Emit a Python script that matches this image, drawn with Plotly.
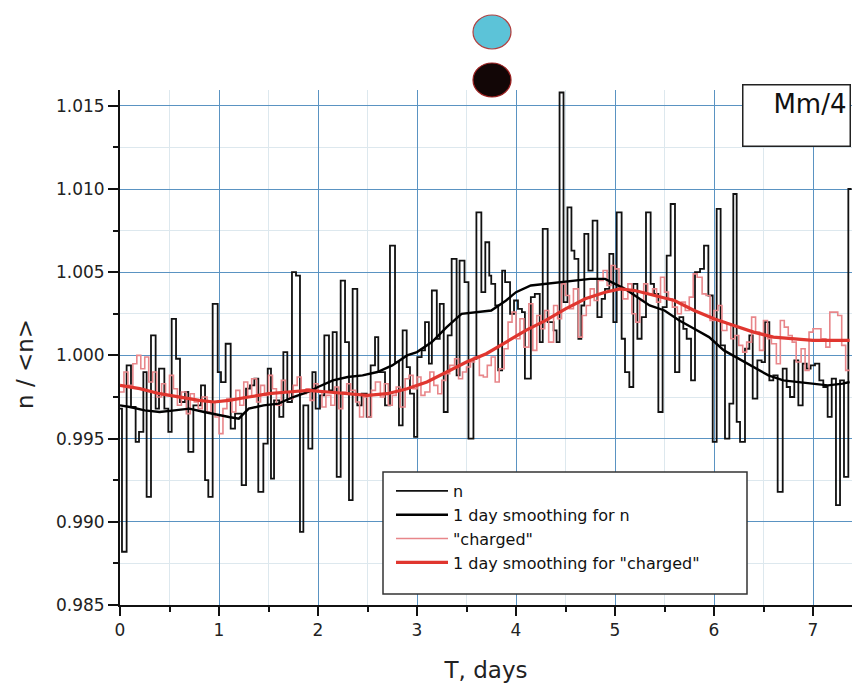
import plotly.graph_objects as go

# ---- data: raw "n" (step, bin start in days, value) ----
t_n = [0.000, 0.020, 0.067, 0.111, 0.158, 0.192, 0.236, 0.269, 0.313, 0.360,
       0.394, 0.448, 0.488, 0.522, 0.566, 0.606, 0.657, 0.690, 0.741, 0.818,
       0.859, 0.892, 0.936, 0.987, 1.020, 1.067, 1.118, 1.162, 1.229, 1.273,
       1.313, 1.357, 1.397, 1.448, 1.492, 1.525, 1.556, 1.609, 1.650, 1.690,
       1.737, 1.778, 1.818, 1.852, 1.902, 1.943, 1.976, 2.020, 2.064, 2.111,
       2.148, 2.189, 2.229, 2.273, 2.313, 2.350, 2.397, 2.441, 2.492, 2.532,
       2.576, 2.609, 2.677, 2.727, 2.778, 2.818, 2.855, 2.896, 2.929, 2.970,
       3.003, 3.047, 3.081, 3.120, 3.150, 3.200, 3.230, 3.270, 3.310, 3.350,
       3.400, 3.430, 3.480, 3.520, 3.570, 3.600, 3.650, 3.690, 3.730, 3.750,
       3.790, 3.820, 3.860, 3.890, 3.940, 3.980, 4.020, 4.060, 4.090, 4.150,
       4.190, 4.240, 4.270, 4.320, 4.380, 4.410, 4.440, 4.480, 4.520, 4.560,
       4.590, 4.630, 4.660, 4.690, 4.731, 4.774, 4.822, 4.865, 4.899, 4.943,
       4.983, 5.017, 5.067, 5.101, 5.145, 5.185, 5.226, 5.269, 5.313, 5.360,
       5.394, 5.438, 5.481, 5.522, 5.562, 5.606, 5.650, 5.690, 5.724, 5.768,
       5.808, 5.859, 5.899, 5.943, 5.987, 6.027, 6.067, 6.111, 6.155, 6.195,
       6.229, 6.263, 6.313, 6.357, 6.391, 6.438, 6.481, 6.515, 6.559, 6.599,
       6.643, 6.694, 6.734, 6.768, 6.811, 6.852, 6.896, 6.936, 6.976, 7.020,
       7.064, 7.104, 7.148, 7.189, 7.232, 7.273, 7.313, 7.357, 7.390]
n_vals = [0.9968, 0.9882, 0.9994, 0.9969, 0.9948, 0.9954, 0.9990, 0.9915, 1.0012, 0.9968,
          0.9992, 0.9968, 0.9954, 1.0022, 0.9998, 0.9972, 0.9978, 0.9942, 0.9970, 0.9982,
          0.9925, 0.9915, 1.0031, 0.9990, 0.9984, 1.0007, 0.9956, 0.9965, 0.9922, 0.9980,
          0.9982, 0.9986, 0.9918, 0.9947, 0.9992, 0.9926, 0.9973, 0.9963, 1.0002, 0.9972,
          1.0050, 1.0048, 0.9894, 0.9970, 0.9944, 0.9990, 0.9968, 0.9976, 1.0012, 0.9979,
          1.0014, 0.9927, 1.0045, 1.0008, 0.9913, 1.0040, 0.9970, 0.9977, 0.9963, 0.9994,
          1.0011, 0.9990, 0.9970, 1.0066, 0.9996, 0.9958, 1.0015, 0.9993, 0.9977, 0.9951,
          0.9999, 1.0003, 1.0020, 0.9995, 1.0039, 1.0010, 1.0031, 0.9966, 1.0012, 1.0058,
          0.9988, 1.0057, 1.0044, 0.9950, 0.9998, 1.0086, 1.0038, 1.0068, 1.0048, 1.0043,
          1.0030, 0.9991, 1.0051, 1.0044, 1.0025, 1.0033, 1.0028, 1.0026, 0.9986, 1.0035,
          1.0037, 1.0008, 1.0076, 1.0020, 1.0015, 1.0008, 1.0158, 1.0032, 1.0089, 1.0063,
          1.0058, 1.0010, 1.0030, 1.0073, 1.0051, 1.0081, 1.0023, 1.0034, 1.0040, 1.0061,
          1.0020, 1.0086, 1.0010, 0.9990, 0.9981, 1.0043, 1.0010, 1.0023, 1.0086, 1.0043,
          1.0037, 0.9966, 1.0029, 1.0060, 1.0091, 0.9990, 1.0023, 1.0016, 1.0010, 0.9985,
          1.0050, 1.0052, 1.0066, 1.0036, 0.9948, 1.0088, 1.0006, 0.9950, 0.9971, 1.0097,
          0.9960, 0.9948, 1.0004, 1.0012, 0.9974, 0.9997, 0.9996, 1.0020, 0.9985, 0.9988,
          0.9918, 0.9992, 0.9981, 0.9975, 0.9997, 0.9970, 0.9995, 0.9992, 0.9994, 0.9995,
          0.9985, 0.9981, 0.9963, 0.9986, 0.9910, 0.9985, 0.9927, 1.0100, 1.0100]

# ---- data: raw "charged" (step) ----
t_c = [0.00, 0.04, 0.08, 0.13, 0.17, 0.21, 0.25, 0.29, 0.33, 0.37,
       0.42, 0.46, 0.50, 0.54, 0.58, 0.62, 0.67, 0.71, 0.75, 0.79,
       0.83, 0.88, 0.92, 0.96, 1.00, 1.04, 1.08, 1.13, 1.17, 1.21,
       1.25, 1.29, 1.33, 1.38, 1.42, 1.46, 1.50, 1.54, 1.58, 1.63,
       1.67, 1.71, 1.75, 1.79, 1.83, 1.88, 1.92, 1.96, 2.00, 2.04,
       2.08, 2.13, 2.17, 2.21, 2.25, 2.29, 2.33, 2.38, 2.42, 2.46,
       2.50, 2.54, 2.58, 2.63, 2.67, 2.71, 2.75, 2.79, 2.83, 2.88,
       2.92, 2.96, 3.00, 3.04, 3.08, 3.13, 3.17, 3.21, 3.25, 3.29,
       3.33, 3.38, 3.42, 3.46, 3.50, 3.54, 3.58, 3.63, 3.67, 3.71,
       3.75, 3.79, 3.83, 3.88, 3.92, 3.96, 4.00, 4.04, 4.08, 4.13,
       4.17, 4.21, 4.25, 4.29, 4.33, 4.38, 4.42, 4.46, 4.50, 4.54,
       4.58, 4.63, 4.67, 4.71, 4.75, 4.79, 4.83, 4.88, 4.92, 4.96,
       5.00, 5.04, 5.08, 5.13, 5.17, 5.21, 5.25, 5.29, 5.33, 5.38,
       5.42, 5.46, 5.50, 5.54, 5.58, 5.63, 5.67, 5.71, 5.75, 5.79,
       5.83, 5.88, 5.92, 5.96, 6.00, 6.04, 6.08, 6.13, 6.17, 6.21,
       6.25, 6.29, 6.33, 6.38, 6.42, 6.46, 6.50, 6.54, 6.58, 6.63,
       6.67, 6.71, 6.75, 6.79, 6.83, 6.88, 6.92, 6.96, 7.00, 7.04,
       7.08, 7.13, 7.17, 7.21, 7.25, 7.29, 7.33, 7.37]
c_vals = [0.9978, 0.9990, 0.9982, 0.9995, 1.0000, 0.9992, 0.9999, 0.9984, 0.9990, 0.9975,
          0.9983, 0.9976, 0.9988, 0.9980, 0.9970, 0.9978, 0.9965, 0.9977, 0.9972, 0.9968,
          0.9975, 0.9966, 0.9972, 0.9963, 0.9953, 0.9968, 0.9974, 0.9966, 0.9979, 0.9970,
          0.9984, 0.9975, 0.9986, 0.9972, 0.9982, 0.9976, 0.9988, 0.9980, 0.9970, 0.9985,
          0.9978, 0.9974, 0.9982, 0.9987, 0.9977, 0.9980, 0.9973, 0.9983, 0.9978, 0.9969,
          0.9976, 0.9970, 0.9981, 0.9968, 0.9978, 0.9983, 0.9979, 0.9972, 0.9963, 0.9975,
          0.9963, 0.9979, 0.9984, 0.9975, 0.9983, 0.9970, 0.9976, 0.9981, 0.9969, 0.9986,
          0.9988, 0.9980, 0.9987, 0.9976, 0.9978, 0.9990, 0.9982, 0.9977, 0.9985, 0.9989,
          0.9994, 0.9998, 0.9986, 0.9990, 0.9993, 0.9996, 0.9999, 0.9988, 0.9987, 0.9994,
          0.9999, 0.9984, 0.9992, 1.0004, 1.0020, 1.0026, 1.0010, 1.0022, 1.0005, 1.0031,
          1.0003, 1.0024, 1.0016, 1.0027, 1.0008, 1.0030, 1.0022, 1.0043, 1.0036, 1.0028,
          1.0040, 1.0011, 1.0024, 1.0030, 1.0040, 1.0033, 1.0045, 1.0051, 1.0042, 1.0054,
          1.0052, 1.0041, 1.0034, 1.0043, 1.0025, 1.0020, 1.0033, 1.0043, 1.0037, 1.0040,
          1.0032, 1.0047, 1.0038, 1.0034, 1.0029, 1.0025, 1.0032, 1.0027, 1.0035, 1.0049,
          1.0047, 1.0037, 1.0036, 1.0021, 1.0027, 1.0030, 1.0015, 1.0019, 1.0010, 1.0012,
          1.0006, 1.0002, 1.0008, 1.0023, 1.0014, 1.0003, 1.0021, 1.0010, 1.0007, 0.9995,
          1.0021, 1.0017, 1.0012, 1.0008, 0.9996, 1.0004, 0.9991, 1.0014, 1.0016, 1.0016,
          1.0010, 1.0005, 1.0026, 1.0026, 1.0024, 1.0006, 0.9991, 0.9991]

# ---- data: 1 day smoothing for n ----
t_sn = [0.00, 0.10, 0.25, 0.40, 0.55, 0.70, 0.85, 1.00, 1.10, 1.20,
        1.30, 1.45, 1.60, 1.75, 1.90, 2.00, 2.15, 2.30, 2.45, 2.60,
        2.75, 2.90, 3.00, 3.15, 3.30, 3.45, 3.60, 3.75, 3.90, 4.00,
        4.15, 4.30, 4.45, 4.60, 4.75, 4.90, 5.00, 5.10, 5.20, 5.35,
        5.50, 5.65, 5.80, 5.95, 6.10, 6.25, 6.40, 6.55, 6.70, 6.85,
        7.00, 7.15, 7.30, 7.37]
sn_vals = [0.9970, 0.9969, 0.9967, 0.9966, 0.9967, 0.9968, 0.9966, 0.9964, 0.9963, 0.9962,
           0.9968, 0.9970, 0.9971, 0.9975, 0.9978, 0.9981, 0.9985, 0.9987, 0.9988, 0.9990,
           0.9994, 1.0000, 1.0002, 1.0008, 1.0017, 1.0025, 1.0026, 1.0027, 1.0033, 1.0038,
           1.0042, 1.0043, 1.0044, 1.0045, 1.0046, 1.0046, 1.0043, 1.0040, 1.0036, 1.0030,
           1.0027, 1.0021, 1.0016, 1.0011, 1.0003, 0.9998, 0.9993, 0.9988, 0.9985, 0.9984,
           0.9983, 0.9982, 0.9983, 0.9984]

# ---- data: 1 day smoothing for "charged" ----
t_sc = [0.00, 0.20, 0.40, 0.60, 0.80, 0.95, 1.10, 1.30, 1.50, 1.70,
        1.90, 2.10, 2.30, 2.50, 2.70, 2.90, 3.10, 3.30, 3.50, 3.70,
        3.90, 4.10, 4.30, 4.50, 4.70, 4.90, 5.05, 5.20, 5.40, 5.60,
        5.80, 6.00, 6.20, 6.40, 6.60, 6.80, 7.00, 7.20, 7.37]
sc_vals = [0.9982, 0.9980, 0.9977, 0.9975, 0.9973, 0.9972, 0.9973, 0.9975, 0.9977, 0.9978,
           0.9979, 0.9978, 0.9977, 0.9976, 0.9977, 0.9980, 0.9984, 0.9990, 0.9996, 1.0001,
           1.0008, 1.0015, 1.0021, 1.0028, 1.0034, 1.0038, 1.0040, 1.0039, 1.0036, 1.0033,
           1.0027, 1.0022, 1.0018, 1.0014, 1.0011, 1.0010, 1.0009, 1.0009, 1.0009]

x_tick_vals = [0, 1, 2, 3, 4, 5, 6, 7]
y_tick_vals = [0.985, 0.990, 0.995, 1.000, 1.005, 1.010, 1.015]
y_tick_text = ["0.985", "0.990", "0.995", "1.000", "1.005", "1.010", "1.015"]

legend_names = ["n", "1 day smoothing for n", "\"charged\"", "1 day smoothing for \"charged\""]

FONT = "DejaVu Sans, Arial, sans-serif"
BODY = 8                     # default page margin of the html body
W, H = 860 - 2 * BODY, 694 - 2 * BODY
ML, MR, MT = 112, 0, 82
MB = H - (605 - BODY)        # x axis at page y = 605
PX_PER_DAY = 99.0
X_MAX = (W - ML - MR) / PX_PER_DAY

fig = go.Figure()
fig.add_trace(go.Scatter(x=t_n, y=n_vals, mode="lines", line=dict(color="#111111", width=1.8, shape="hv"),
                         name=legend_names[0], legendrank=1))
fig.add_trace(go.Scatter(x=t_c, y=c_vals, mode="lines", line=dict(color="#e8868a", width=1.6, shape="hv"),
                         name=legend_names[2], legendrank=3))
fig.add_trace(go.Scatter(x=t_sn, y=sn_vals, mode="lines", line=dict(color="#000000", width=2.4),
                         name=legend_names[1], legendrank=2))
fig.add_trace(go.Scatter(x=t_sc, y=sc_vals, mode="lines", line=dict(color="#e0362f", width=3.2),
                         name=legend_names[3], legendrank=4))

pw = W - ML - MR
ph = H - MT - MB


def px_x(p):
    """page pixel x -> paper coordinate"""
    return (p - BODY - ML) / pw


def px_y(p):
    """page pixel y -> paper coordinate"""
    return (H - MB - (p - BODY)) / ph


shapes = [
    dict(type="circle", xref="paper", yref="paper",
         x0=px_x(473), x1=px_x(511), y0=px_y(49), y1=px_y(15),
         fillcolor="#5cc3d8", line=dict(color="#b04040", width=1.2)),
    dict(type="circle", xref="paper", yref="paper",
         x0=px_x(473), x1=px_x(511), y0=px_y(97), y1=px_y(63),
         fillcolor="#120606", line=dict(color="#9a2020", width=1.2)),
    # legend frame
    dict(type="rect", xref="paper", yref="paper", layer="above",
         x0=px_x(383), x1=px_x(747), y0=px_y(594), y1=px_y(472),
         fillcolor="white", line=dict(color="#333333", width=1.5)),
]

annotations = [
    dict(text="Mm/4", xref="paper", yref="paper", x=px_x(851), y=px_y(84),
         xanchor="right", yanchor="top", showarrow=False, width=100, height=54,
         align="right", valign="top", borderpad=3, bgcolor="white",
         bordercolor="#222222", borderwidth=1.5,
         font=dict(family=FONT, size=26, color="#111111")),
    dict(text="n / &lt;n&gt;", xref="paper", yref="paper", x=px_x(25), y=px_y(364),
         xanchor="center", yanchor="middle", showarrow=False, textangle=-90,
         font=dict(family=FONT, size=23, color="#222222")),
]

grid_major = "#5a93c2"
grid_minor = "#dde8ee"

fig.update_layout(
    width=W, height=H,
    margin=dict(l=ML, r=MR, t=MT, b=MB),
    paper_bgcolor="white", plot_bgcolor="white",
    font=dict(family=FONT, color="#222222"),
    shapes=shapes, annotations=annotations,
    legend=dict(x=px_x(391), y=px_y(474), xanchor="left", yanchor="top",
                bgcolor="rgba(0,0,0,0)", borderwidth=0,
                font=dict(family=FONT, size=16, color="#111111"),
                itemwidth=52, tracegroupgap=0, traceorder="normal"),
    showlegend=True,
)

fig.update_xaxes(
    range=[0, X_MAX], tickvals=x_tick_vals, ticks="outside", ticklen=9, tickwidth=2,
    tickcolor="#111111", showline=True, linecolor="#111111", linewidth=2,
    showgrid=True, gridcolor=grid_major, gridwidth=1, zeroline=False,
    tickfont=dict(family=FONT, size=17, color="#222222"),
    title=dict(text="T, days", font=dict(family=FONT, size=23, color="#222222"), standoff=22),
    minor=dict(dtick=0.5, ticks="outside", ticklen=5, tickwidth=1.5, tickcolor="#111111",
               showgrid=True, gridcolor=grid_minor, gridwidth=1),
)
fig.update_yaxes(
    range=[0.985, 1.01595], tickvals=y_tick_vals, ticktext=y_tick_text, ticks="outside",
    ticklen=10, tickwidth=2, tickcolor="#111111", showline=True, linecolor="#111111",
    linewidth=2, showgrid=True, gridcolor=grid_major, gridwidth=1, zeroline=False,
    tickfont=dict(family=FONT, size=17, color="#222222"),
    minor=dict(dtick=0.0025, tick0=0.985, ticks="outside", ticklen=5, tickwidth=1.5,
               tickcolor="#111111", showgrid=True, gridcolor=grid_minor, gridwidth=1),
)

fig.write_html("out.html")
